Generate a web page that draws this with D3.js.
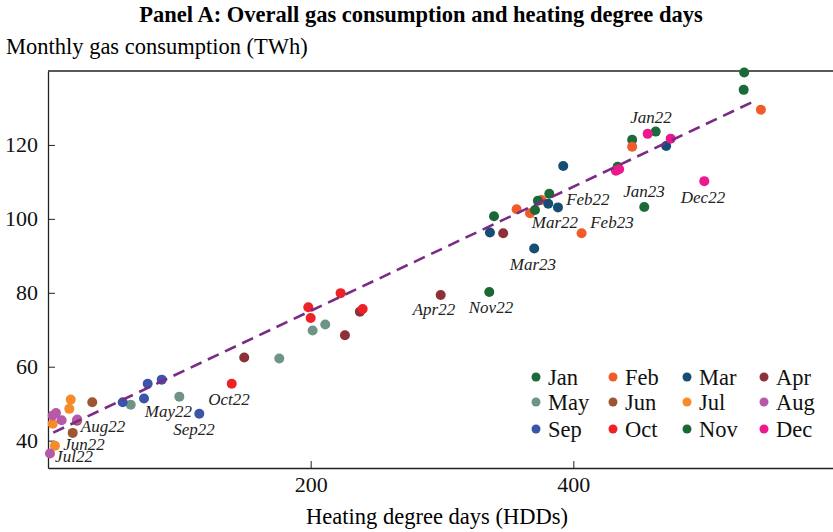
<!DOCTYPE html>
<html>
<head>
<meta charset="utf-8">
<script src="https://cdn.jsdelivr.net/npm/d3@7"></script>
<style>
  body { margin: 0; background: #fff; }
  text { font-family: "Liberation Serif", "Times New Roman", serif; }
</style>
</head>
<body>
<svg width="833" height="532"></svg>
<script>
// months and their colours
const months = ["Jan", "Feb", "Mar", "Apr", "May", "Jun", "Jul", "Aug", "Sep", "Oct", "Nov", "Dec"];
const monthColours = ["#1b6a39", "#f15a29", "#154d74", "#8c3039", "#6e9486", "#9c5631",
                      "#f68b2a", "#b659a8", "#3b56a8", "#ee2127", "#1a6836", "#ec188c"];

// [HDD, TWh] per month
const janPts = [[530.1, 139.6], [529.7, 134.9], [444.8, 121.4], [462.7, 123.6], [433.7, 114.1], [454.0, 103.2]];
const febPts = [[542.8, 129.5], [444.8, 119.5], [375.7, 105.1], [356.8, 102.6], [367.0, 101.5], [406.3, 96.1]];
const marPts = [[470.7, 119.7], [392.3, 114.3], [380.9, 104.1], [388.3, 103.1], [336.5, 96.3], [370.2, 92.0]];
const aprPts = [[346.6, 96.1], [299.0, 79.4], [237.5, 74.9], [226.1, 68.5], [149.4, 62.5]];
const mayPts = [[211.1, 71.4], [201.5, 69.8], [176.1, 62.2], [100.0, 51.9], [63.0, 49.7]];
const junPts = [[33.7, 50.4], [22.1, 45.4], [18.8, 42.1]];
const julPts = [[17.3, 51.1], [16.2, 48.6], [3.6, 44.6], [5.3, 38.6]];
const augPts = [[6.1, 47.5], [3.6, 46.8], [10.4, 45.5], [22.3, 45.7], [1.5, 36.5]];
const sepPts = [[75.9, 55.4], [86.6, 56.5], [73.1, 51.4], [56.9, 50.4], [115.2, 47.3]];
const octPts = [[222.8, 79.9], [198.2, 76.1], [200.0, 73.2], [239.6, 75.6], [139.9, 55.4]];
const novPts = [[381.7, 106.8], [373.0, 104.9], [370.8, 102.4], [339.6, 100.7], [336.0, 80.2]];
const decPts = [[456.6, 123.0], [474.1, 121.7], [432.4, 113.0], [434.9, 113.4], [499.7, 110.2]];
const allPts = [janPts, febPts, marPts, aprPts, mayPts, junPts, julPts, augPts, sepPts, octPts, novPts, decPts];

// labelled months: text, HDD, TWh (where the label sits)
const labelText = ["Jan22", "Jan23", "Dec22", "Feb22", "Mar22", "Feb23", "Mar23", "Apr22", "Nov22",
                   "Oct22", "May22", "Sep22", "Aug22", "Jun22", "Jul22"];
const labelHdd = [459.1, 453.8, 498.7, 411.1, 386.0, 429.4, 369.2, 293.9, 337.3, 137.8, 91.7, 111.2, 41.9, 27.4, 19.8];
const labelTwh = [126.0, 105.9, 104.3, 103.8, 97.6, 97.6, 86.2, 74.1, 74.6, 49.7, 46.5, 41.6, 42.4, 37.6, 34.2];

// fitted line
const fitRange = [4, 540];
const fitIntercept = 41.5;
const fitSlope = 0.168;

const xTicks = [200, 400];
const yTicks = [40, 60, 80, 100, 120];

const svg = d3.select("svg");
const margin = { left: 48, top: 71, bottom: 64 };
const plotH = 532 - margin.top - margin.bottom;

const x = d3.scaleLinear().domain([0, 600]).range([margin.left, margin.left + 788]);
const y = d3.scaleLinear().domain([32.6, 140]).range([margin.top + plotH, margin.top]);

// title + axis titles
svg.append("text")
  .attr("x", 421).attr("y", 22)
  .attr("text-anchor", "middle")
  .style("font-size", "22.5px").style("font-weight", "bold")
  .text("Panel A: Overall gas consumption and heating degree days");
svg.append("text")
  .attr("x", 6).attr("y", 54)
  .style("font-size", "22.5px")
  .text("Monthly gas consumption (TWh)");
svg.append("text")
  .attr("x", 437).attr("y", 524)
  .attr("text-anchor", "middle")
  .style("font-size", "22.5px")
  .text("Heating degree days (HDDs)");

// top frame line
svg.append("line")
  .attr("x1", margin.left).attr("x2", 833)
  .attr("y1", margin.top).attr("y2", margin.top)
  .attr("stroke", "#222").attr("stroke-width", 1.3);

const yAxis = svg.append("g")
  .attr("transform", `translate(${margin.left},0)`)
  .call(d3.axisLeft(y).tickValues(yTicks).tickSize(-7).tickSizeOuter(0).tickPadding(10));
const xAxis = svg.append("g")
  .attr("transform", `translate(0,${margin.top + plotH})`)
  .call(d3.axisBottom(x).tickValues(xTicks).tickSize(-7).tickSizeOuter(0).tickPadding(8));
[xAxis, yAxis].forEach((g) => {
  g.select(".domain").attr("stroke", "#222").attr("stroke-width", 1.3);
  g.selectAll(".tick line").attr("stroke", "#222");
  g.selectAll(".tick text")
    .style("font-family", '"Liberation Serif", "Times New Roman", serif')
    .style("font-size", "22px").attr("fill", "#111");
});

// points
const pointData = allPts.flatMap((pts, m) => pts.map((p) => ({ m: m, hdd: p[0], twh: p[1] })));
svg.append("g").selectAll("circle").data(pointData).enter()
  .append("circle")
  .attr("cx", (d) => x(d.hdd))
  .attr("cy", (d) => y(d.twh))
  .attr("r", 5)
  .attr("fill", (d) => monthColours[d.m]);

// dashed fit
svg.append("line")
  .attr("x1", x(fitRange[0])).attr("y1", y(fitIntercept + fitSlope * fitRange[0]))
  .attr("x2", x(fitRange[1])).attr("y2", y(fitIntercept + fitSlope * fitRange[1]))
  .attr("stroke", "#7b2a86").attr("stroke-width", 2.6)
  .attr("stroke-dasharray", "12,7");

// labels
svg.append("g").selectAll("text").data(labelText).enter()
  .append("text")
  .attr("x", (d, i) => x(labelHdd[i]))
  .attr("y", (d, i) => y(labelTwh[i]))
  .attr("text-anchor", "middle")
  .style("font-size", "17px").style("font-style", "italic")
  .attr("fill", "#222")
  .text((d) => d);

// legend 4 columns x 3 rows
const legend = svg.append("g");
const colX = [536, 613, 687, 764];
const rowY = [377, 402, 429];
months.forEach((mName, i) => {
  const cx = colX[i % 4], cy = rowY[Math.floor(i / 4)];
  legend.append("circle").attr("cx", cx).attr("cy", cy).attr("r", 4.5).attr("fill", monthColours[i]);
  legend.append("text").attr("x", cx + 12).attr("y", cy + 8)
    .style("font-size", "22.5px").attr("fill", "#111").text(mName);
});
</script>
</body>
</html>
